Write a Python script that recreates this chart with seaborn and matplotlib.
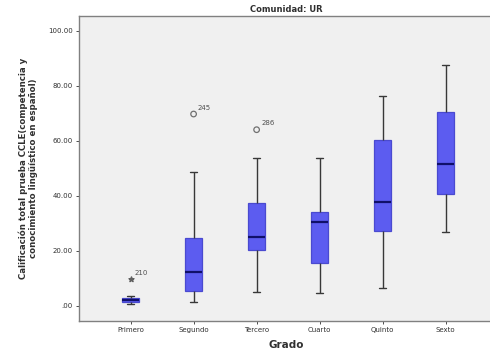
import numpy as np
import pandas as pd
import matplotlib
matplotlib.use("Agg")
import matplotlib.pyplot as plt
import seaborn as sns

# ---- data ----
categories = ["Primero", "Segundo", "Tercero", "Cuarto", "Quinto", "Sexto"]
whisker_low = [0.6, 1.3, 5.0, 4.6, 6.4, 26.9]
q1_vals = [1.3, 5.6, 20.4, 15.8, 27.4, 40.7]
medians = [2.2, 12.3, 25.1, 30.5, 37.9, 51.5]
q3_vals = [3.0, 24.6, 37.3, 34.1, 60.4, 70.4]
whisker_high = [3.6, 48.6, 53.7, 53.7, 76.4, 87.6]
outlier_cat = ["Primero", "Segundo", "Tercero"]
outlier_val = [9.8, 69.8, 64.1]
outlier_lab = ["210", "245", "286"]
outlier_kind = ["extreme", "outlier", "outlier"]
yticks = [0, 20, 40, 60, 80, 100]
ytick_labels = [".00", "20.00", "40.00", "60.00", "80.00", "100.00"]

# build a small sample per group reproducing the five-number summary
rows = []
for i, c in enumerate(categories):
    lo, a, m, b, hi = whisker_low[i], q1_vals[i], medians[i], q3_vals[i], whisker_high[i]
    vals = [lo, (lo + a) / 2, a, (a + m) / 2, m, (m + b) / 2, b, (b + hi) / 2, hi]
    for v in vals:
        rows.append((c, v))
df = pd.DataFrame(rows, columns=["Grado", "valor"])

sns.set_theme(style="white")
plt.rcParams["font.family"] = ["DejaVu Sans"]

fig = plt.figure(figsize=(4.9, 3.6), dpi=100)
ax = fig.add_axes([0.161, 0.108, 0.845, 0.848])
ax.set_facecolor("#f0f0f0")

sns.boxplot(data=df, x="Grado", y="valor", order=categories, ax=ax,
            width=0.27, color="#5c5cf0", saturation=1, whis=np.inf,
            showfliers=False, linewidth=0.9,
            boxprops=dict(edgecolor="#4a4ad0", facecolor="#5c5cf0"),
            whiskerprops=dict(color="#383838", linewidth=1.0),
            capprops=dict(color="#383838", linewidth=1.0),
            medianprops=dict(color="#10106a", linewidth=1.6))

# shorten caps
for line in ax.lines:
    xd = line.get_xdata()
    if len(xd) == 2 and xd[0] != xd[1]:
        yd = line.get_ydata()
        if yd[0] == yd[1]:
            mid = (xd[0] + xd[1]) / 2
            if abs(xd[1] - xd[0]) < 0.2:
                line.set_xdata([mid - 0.055, mid + 0.055])

for c, v, lab, kind in zip(outlier_cat, outlier_val, outlier_lab, outlier_kind):
    xi = categories.index(c)
    if kind == "extreme":
        ax.scatter([xi], [v], marker="*", s=14, color="#606060", zorder=5)
    else:
        ax.scatter([xi], [v], marker="o", s=16, facecolors="none",
                   edgecolors="#707070", linewidths=0.9, zorder=5)
    ax.text(xi + 0.07, v + 1.2, lab, fontsize=5, color="#505050",
            ha="left", va="bottom")

ax.set_xlim(-0.82, 5.75)
ax.set_ylim(-5.5, 105.5)
ax.set_yticks(yticks)
ax.set_yticklabels(ytick_labels)
ax.tick_params(axis="both", labelsize=5, colors="#303030", length=2.5,
               width=0.6, direction="out", left=True, bottom=True, pad=2)
for s in ["left", "bottom", "top"]:
    ax.spines[s].set_color("#808080")
    ax.spines[s].set_linewidth(1.0)
ax.spines["right"].set_visible(False)

ax.set_xlabel("Grado", fontsize=7.5, fontweight="bold", color="#303030", labelpad=5)
ax.set_ylabel("Calificación total prueba CCLE(competencia y\n"
              "conocimiento lingüístico en español)",
              fontsize=6.2, fontweight="bold", color="#303030", labelpad=7)
ax.set_title("Comunidad: UR", fontsize=6, fontweight="bold", color="#303030", pad=3)

fig.savefig("out.png", dpi=100, facecolor="white")
